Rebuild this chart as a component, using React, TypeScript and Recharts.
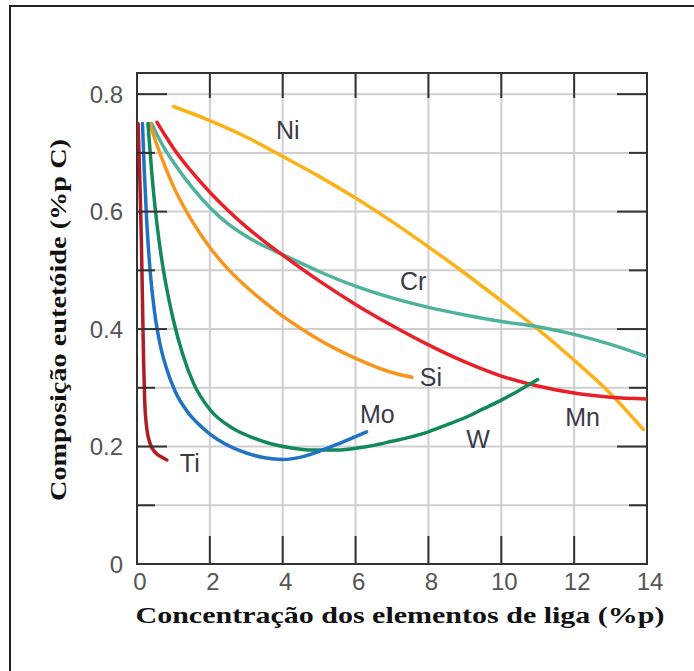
import React from 'react';
import { LineChart, Line, XAxis, YAxis, CartesianGrid, ReferenceArea, ReferenceDot } from 'recharts';

// eutectoid carbon content vs. alloying element content
const ti = [
  { x: 0.03, y: 0.75 }, { x: 0.08, y: 0.65 }, { x: 0.12, y: 0.55 }, { x: 0.15, y: 0.45 },
  { x: 0.18, y: 0.35 }, { x: 0.21, y: 0.28 }, { x: 0.27, y: 0.23 }, { x: 0.36, y: 0.205 },
  { x: 0.5, y: 0.19 }, { x: 0.65, y: 0.183 }, { x: 0.82, y: 0.177 },
];

const mo = [
  { x: 0.15, y: 0.75 }, { x: 0.2, y: 0.67 }, { x: 0.27, y: 0.58 }, { x: 0.36, y: 0.5 },
  { x: 0.48, y: 0.43 }, { x: 0.63, y: 0.375 }, { x: 0.8, y: 0.335 }, { x: 1.04, y: 0.295 },
  { x: 1.4, y: 0.258 }, { x: 1.78, y: 0.233 }, { x: 2.4, y: 0.205 }, { x: 3, y: 0.189 },
  { x: 3.5, y: 0.181 }, { x: 4, y: 0.178 }, { x: 4.5, y: 0.182 }, { x: 5, y: 0.192 },
  { x: 5.5, y: 0.204 }, { x: 6, y: 0.217 }, { x: 6.3, y: 0.225 },
];

const w = [
  { x: 0.3, y: 0.75 }, { x: 0.4, y: 0.67 }, { x: 0.5, y: 0.605 }, { x: 0.6, y: 0.553 },
  { x: 0.7, y: 0.51 }, { x: 0.85, y: 0.458 }, { x: 1.0, y: 0.415 }, { x: 1.25, y: 0.358 },
  { x: 1.55, y: 0.308 }, { x: 2, y: 0.263 }, { x: 2.6, y: 0.232 }, { x: 3.1, y: 0.217 },
  { x: 3.6, y: 0.206 }, { x: 4.2, y: 0.198 }, { x: 4.8, y: 0.194 }, { x: 5.5, y: 0.194 },
  { x: 6, y: 0.197 }, { x: 6.5, y: 0.202 }, { x: 7, y: 0.209 }, { x: 7.5, y: 0.216 },
  { x: 8, y: 0.225 }, { x: 8.5, y: 0.237 }, { x: 9, y: 0.249 }, { x: 9.5, y: 0.264 },
  { x: 10, y: 0.279 }, { x: 10.5, y: 0.296 }, { x: 11, y: 0.314 },
];

const si = [
  { x: 0.35, y: 0.75 }, { x: 0.5, y: 0.722 }, { x: 0.75, y: 0.68 }, { x: 1, y: 0.643 },
  { x: 1.5, y: 0.585 }, { x: 2, y: 0.539 }, { x: 2.5, y: 0.502 }, { x: 3, y: 0.472 },
  { x: 3.5, y: 0.446 }, { x: 4, y: 0.422 }, { x: 4.5, y: 0.401 }, { x: 5, y: 0.382 },
  { x: 5.5, y: 0.365 }, { x: 6, y: 0.35 }, { x: 6.5, y: 0.337 }, { x: 7, y: 0.326 },
  { x: 7.55, y: 0.318 },
];

const cr = [
  { x: 0.4, y: 0.75 }, { x: 0.6, y: 0.725 }, { x: 0.8, y: 0.703 }, { x: 1, y: 0.684 },
  { x: 1.5, y: 0.642 }, { x: 2, y: 0.607 }, { x: 2.5, y: 0.579 }, { x: 3, y: 0.558 },
  { x: 3.5, y: 0.541 }, { x: 4, y: 0.527 }, { x: 5, y: 0.498 }, { x: 6, y: 0.473 },
  { x: 7, y: 0.453 }, { x: 8, y: 0.437 }, { x: 9, y: 0.424 }, { x: 10, y: 0.413 },
  { x: 11, y: 0.404 }, { x: 12, y: 0.391 }, { x: 13, y: 0.374 }, { x: 14, y: 0.353 },
];

const mn = [
  { x: 0.55, y: 0.752 }, { x: 0.8, y: 0.727 }, { x: 1, y: 0.708 }, { x: 1.5, y: 0.668 },
  { x: 2, y: 0.633 }, { x: 2.5, y: 0.602 }, { x: 3, y: 0.574 }, { x: 3.5, y: 0.549 },
  { x: 4, y: 0.526 }, { x: 5, y: 0.482 }, { x: 6, y: 0.442 }, { x: 7, y: 0.406 },
  { x: 8, y: 0.373 }, { x: 9, y: 0.344 }, { x: 10, y: 0.32 }, { x: 11, y: 0.303 },
  { x: 12, y: 0.291 }, { x: 13, y: 0.284 }, { x: 14, y: 0.281 },
];

const ni = [
  { x: 1, y: 0.779 }, { x: 2, y: 0.755 }, { x: 3, y: 0.727 }, { x: 4, y: 0.694 },
  { x: 5, y: 0.66 }, { x: 6, y: 0.623 }, { x: 7, y: 0.583 }, { x: 8, y: 0.54 },
  { x: 9, y: 0.495 }, { x: 10, y: 0.448 }, { x: 11, y: 0.4 }, { x: 12, y: 0.347 },
  { x: 13, y: 0.29 }, { x: 13.9, y: 0.229 },
];

const curveLabels = [
  { name: 'Ni', x: 4.14, y: 0.739 },
  { name: 'Cr', x: 7.58, y: 0.481 },
  { name: 'Si', x: 8.07, y: 0.319 },
  { name: 'Mo', x: 6.6, y: 0.256 },
  { name: 'W', x: 9.36, y: 0.213 },
  { name: 'Mn', x: 12.23, y: 0.25 },
  { name: 'Ti', x: 1.45, y: 0.172 },
];

const xTicks = [0, 2, 4, 6, 8, 10, 12, 14];
const yTicks = [0, 0.1, 0.2, 0.3, 0.4, 0.5, 0.6, 0.7, 0.8];

const series = [
  { key: 'ni', data: ni, color: '#fbb216' },
  { key: 'cr', data: cr, color: '#4fb39b' },
  { key: 'mn', data: mn, color: '#e8202a' },
  { key: 'si', data: si, color: '#f8951d' },
  { key: 'w', data: w, color: '#13895a' },
  { key: 'mo', data: mo, color: '#1f72c4' },
  { key: 'ti', data: ti, color: '#b01c24' },
];

const W = 694;
const H = 671;
const PLOT_LEFT = 137;
const PLOT_RIGHT = 647;
const PLOT_TOP = 73;
const PLOT_BOTTOM = 564;
const FRAME = '#333';
const SANS = '"Liberation Sans", Arial, sans-serif';
const SERIF = '"Liberation Serif", "DejaVu Serif", serif';

const YTick = (props: any) => {
  const { x, y, payload } = props;
  const v = payload.value;
  const major = Math.round(v * 10) % 2 === 0;
  const len = major ? 30 : 18;
  return (
    <g>
      <line x1={PLOT_LEFT} x2={PLOT_LEFT + len} y1={y} y2={y} stroke={FRAME} strokeWidth={2} />
      <line x1={PLOT_RIGHT - len} x2={PLOT_RIGHT} y1={y} y2={y} stroke={FRAME} strokeWidth={2} />
      {major && (
        <text x={x} y={y} dy="0.36em" textAnchor="end" fill="#555" fontSize={24} fontFamily={SANS}>
          {v === 0 ? '0' : v.toFixed(1)}
        </text>
      )}
    </g>
  );
};

const XTick = (props: any) => {
  const { x, y, payload } = props;
  return (
    <g>
      <line x1={x} x2={x} y1={PLOT_BOTTOM} y2={PLOT_BOTTOM - 28} stroke={FRAME} strokeWidth={2} />
      <line x1={x} x2={x} y1={PLOT_TOP} y2={PLOT_TOP + 25} stroke={FRAME} strokeWidth={2} />
      <text x={x + 3} y={y} dy="0.75em" textAnchor="middle" fill="#555" fontSize={24} fontFamily={SANS}>
        {payload.value}
      </text>
    </g>
  );
};

const XTitle = () => (
  <text x={400} y={623} textAnchor="middle" fontSize={24} fontWeight="bold" fontFamily={SERIF}
    fill="#111" textLength={529} lengthAdjust="spacingAndGlyphs">
    Concentração dos elementos de liga (%p)
  </text>
);

const YTitle = () => (
  <text transform="translate(66, 320) rotate(-90)" textAnchor="middle" fontSize={24} fontWeight="bold"
    fontFamily={SERIF} fill="#111" textLength={362} lengthAdjust="spacingAndGlyphs">
    Composição eutetóide (%p C)
  </text>
);

const App: React.FC = () => {
  return (
    <div style={{ position: 'fixed', left: 0, top: 0, width: W, height: H, background: '#fff' }}>
      <div style={{
        position: 'absolute', left: 9, top: 5, width: 700, height: 700,
        borderTop: '2px solid #222', borderLeft: '2px solid #222',
      }} />
      <LineChart
        width={W}
        height={H}
        margin={{ top: PLOT_TOP, right: W - PLOT_RIGHT, left: PLOT_LEFT - 50, bottom: 67 }}
        style={{ position: 'absolute', left: 0, top: 0 }}
      >
        <CartesianGrid stroke="#cfcfcf" strokeWidth={2} />
        <XAxis
          type="number"
          dataKey="x"
          domain={[0, 14]}
          ticks={xTicks}
          axisLine={false}
          tickLine={false}
          tickSize={4}
          tickMargin={4}
          height={40}
          tick={<XTick />}
          label={<XTitle />}
          allowDataOverflow
        />
        <YAxis
          type="number"
          domain={[0, 0.836]}
          ticks={yTicks}
          axisLine={false}
          tickLine={false}
          tickSize={6}
          tickMargin={8}
          width={50}
          tick={<YTick />}
          label={<YTitle />}
          allowDataOverflow
        />
        <ReferenceArea x1={0} x2={14} y1={0} y2={0.836} fill="none" stroke={FRAME} strokeWidth={2} />
        {series.map((s) => (
          <Line
            key={s.key}
            data={s.data}
            dataKey="y"
            type="monotone"
            stroke={s.color}
            strokeWidth={3.5}
            strokeLinecap="round"
            dot={false}
            activeDot={false}
            isAnimationActive={false}
          />
        ))}
        {curveLabels.map((l) => (
          <ReferenceDot
            key={l.name}
            x={l.x}
            y={l.y}
            r={0}
            fill="none"
            stroke="none"
            label={{ value: l.name, position: 'center', fill: '#3a3a48', fontSize: 25, fontFamily: SANS }}
          />
        ))}
      </LineChart>
    </div>
  );
};

export default App;
